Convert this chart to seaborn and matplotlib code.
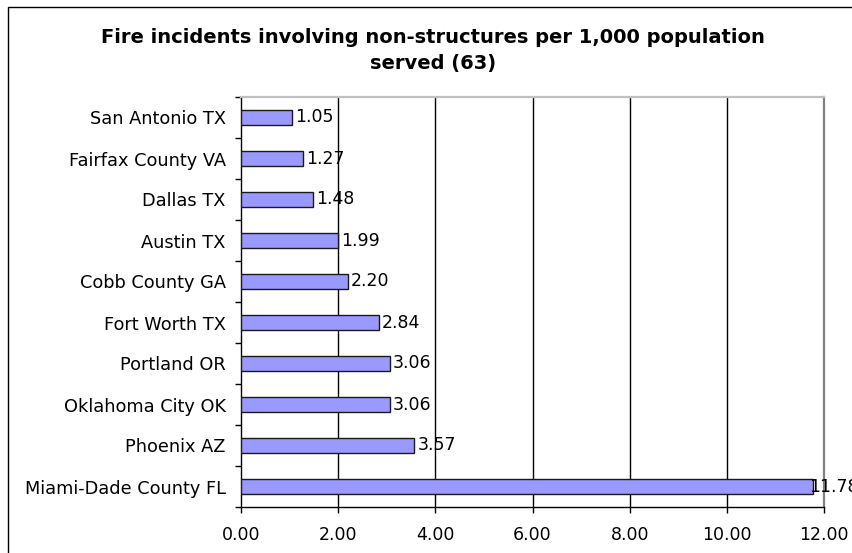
import matplotlib
matplotlib.use("Agg")
import matplotlib.pyplot as plt
from matplotlib.patches import Rectangle
from matplotlib.ticker import FixedLocator
import seaborn as sns

categories = [
    "San Antonio TX", "Fairfax County VA", "Dallas TX", "Austin TX",
    "Cobb County GA", "Fort Worth TX", "Portland OR", "Oklahoma City OK",
    "Phoenix AZ", "Miami-Dade County FL",
]
values = [1.05, 1.27, 1.48, 1.99, 2.20, 2.84, 3.06, 3.06, 3.57, 11.78]
x_ticks = [0, 2, 4, 6, 8, 10, 12]
title_lines = ["Fire incidents involving non-structures per 1,000 population",
               "served (63)"]

sns.set_theme(style="white")
plt.rcParams["font.family"] = ["DejaVu Sans"]

W, H = 852, 553
fig = plt.figure(figsize=(W / 100, H / 100), dpi=100)
ax = fig.add_axes([241 / W, 1 - 507 / H, (824 - 241) / W, (507 - 97) / H])

sns.barplot(x=values, y=categories, orient="h", color="#9999FF", saturation=1,
            edgecolor="#1a1a1a", linewidth=1.0, width=0.385, ax=ax, zorder=3)

ax.set_xlim(0, 12)
ax.set_ylim(len(categories) - 0.5, -0.5)
ax.set_xlabel("")
ax.set_ylabel("")

# vertical gridlines
for t in x_ticks[1:-1]:
    ax.axvline(t, color="black", lw=1.0, zorder=1)

ax.xaxis.set_major_locator(FixedLocator(x_ticks))
ax.set_xticklabels([f"{t:.2f}" for t in x_ticks], fontsize=12.5)
ax.tick_params(axis="x", which="major", direction="out", length=4.3, width=1.0,
               color="black", pad=9.5, bottom=True)

# category ticks on boundaries, labels at centres
ax.yaxis.set_minor_locator(FixedLocator([i + 0.5 for i in range(-1, len(categories))]))
ax.tick_params(axis="y", which="minor", direction="out", length=4.3, width=1.0,
               color="black", left=True)
ax.tick_params(axis="y", which="major", length=0, pad=11, labelsize=12.8)
for lbl in ax.get_yticklabels() + ax.get_xticklabels():
    lbl.set_color("black")

for side in ["left", "bottom"]:
    ax.spines[side].set_color("black")
    ax.spines[side].set_linewidth(1.0)
ax.spines["right"].set_color("#808080")
ax.spines["right"].set_linewidth(1.6)
ax.spines["top"].set_color("#c0c0c0")
ax.spines["top"].set_linewidth(1.6)

for cont in ax.containers:
    labels = ax.bar_label(cont, labels=[f"{v:.2f}" for v in values], padding=2.2,
                          fontsize=12.5, color="black", clip_on=False)
    # the longest bar's label is pulled back onto the bar end
    labels[-1].xyann = (-3.0, 0)

# two-line chart title
fig.text(433 / W, 1 - 43 / H, title_lines[0], ha="center", va="baseline",
         fontsize=14, fontweight="bold", color="black")
fig.text(433 / W, 1 - 69 / H, title_lines[1], ha="center", va="baseline",
         fontsize=14, fontweight="bold", color="black")

# chart area frame
fig.patches.append(Rectangle((8 / W, -0.2), 1.2, 1.2 - 6.5 / H,
                             transform=fig.transFigure, fill=False,
                             edgecolor="black", lw=1.0))

fig.savefig("out.png", dpi=100, facecolor="white")
